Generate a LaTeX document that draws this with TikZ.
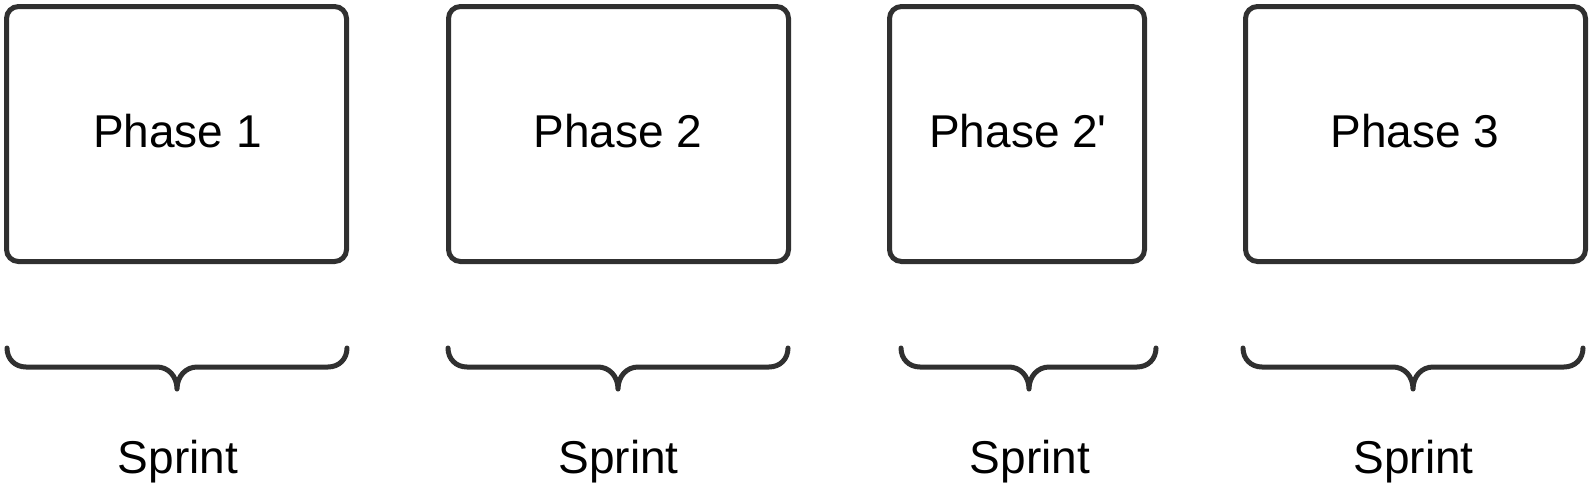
\documentclass[tikz,border=0pt]{standalone}
\usepackage{fontspec}
\setmainfont{Liberation Sans}[Ligatures=TeXOff]
\definecolor{lineC}{RGB}{48,48,48}
\newcommand{\sprintbrace}[4]{% name, left x, right x, tip x
  \coordinate (#1L) at (#2,-348);
  \coordinate (#1R) at (#3,-348);
  \coordinate (#1T) at (#4,-389);
  \draw[bracestyle] (#1L) .. controls (#2,-359) and ({#2+8},-367) .. ({#2+19},-367)
    -- ({#4-20},-367) .. controls ({#4-9},-367) and (#4,-376) .. (#1T)
    .. controls (#4,-376) and ({#4+9},-367) .. ({#4+20},-367)
    -- ({#3-19},-367) .. controls ({#3-8},-367) and (#3,-359) .. (#1R);
}
\begin{document}
\begin{tikzpicture}[x=1pt,y=1pt,
  phasebox/.style={draw=lineC, line width=5pt, rounded corners=12pt, fill=white,
    minimum height=255pt, inner sep=0pt, outer sep=0pt},
  bracestyle/.style={draw=lineC, line width=5pt, line cap=round, line join=round},
  lbl/.style={font=\fontsize{46}{55}\selectfont, text=black, inner sep=0pt, anchor=base}]
\useasboundingbox (0,0) rectangle (1594,-490);
\fill[white] (0,0) rectangle (1594,-490);
% boxes
\node[phasebox, minimum width=340pt] (b1) at (176.5,-134) {};
\node[phasebox, minimum width=340pt] (b2) at (618.5,-134) {};
\node[phasebox, minimum width=255pt] (b3) at (1017,-134) {};
\node[phasebox, minimum width=340pt] (b4) at (1415.5,-134) {};
% phase labels
\node[lbl] (p1) at (177.5,-147) {Phase 1};
\node[lbl] (p2) at (618,-147) {Phase 2};
\node[lbl] (p3) at (1018,-147) {Phase 2'};
\node[lbl] (p4) at (1415,-147) {Phase 3};
% braces
\sprintbrace{s1}{7}{347}{177}
\sprintbrace{s2}{448}{788}{618}
\sprintbrace{s3}{901}{1156}{1029}
\sprintbrace{s4}{1243}{1583}{1413}
% sprint labels
\node[lbl] (t1) at (178,-473) {Sprint};
\node[lbl] (t2) at (618.5,-473) {Sprint};
\node[lbl] (t3) at (1030,-473) {Sprint};
\node[lbl] (t4) at (1413.5,-473) {Sprint};
\end{tikzpicture}
\end{document}
